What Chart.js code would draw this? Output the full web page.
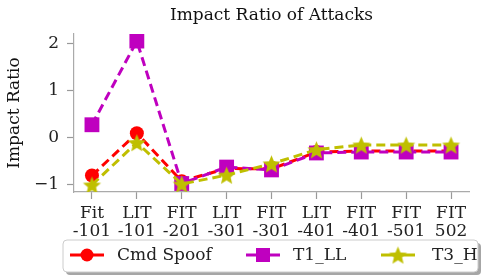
<!DOCTYPE html>
<html>
<head>
<meta charset="utf-8">
<script src="https://cdn.jsdelivr.net/npm/chart.js@4/dist/chart.umd.min.js"></script>
<style>
  html, body { margin: 0; padding: 0; background: #fff; }
  #wrap { width: 484px; height: 277px; }
</style>
</head>
<body>
<div id="wrap"><canvas id="myChart" width="484" height="277"></canvas></div>
<script>
// data
const categories = [['Fit', '-101'], ['LIT', '-101'], ['FIT', '-201'], ['LIT', '-301'], ['FIT', '-301'],
                    ['LIT', '-401'], ['FIT', '-401'], ['FIT', '-501'], ['FIT', '502']];
const cmdSpoof = [-0.80, 0.10, -0.92, -0.65, -0.66, -0.30, -0.28, -0.28, -0.28];
const t1LL     = [0.28, 2.06, -0.97, -0.62, -0.68, -0.32, -0.30, -0.30, -0.30];
const t3H      = [-1.00, -0.10, -0.98, -0.79, -0.55, -0.25, -0.15, -0.15, -0.15];
const yTicks = [-1, 0, 1, 2];

const FONT = "'DejaVu Serif', serif";
const FS = 17;
const RED = '#ff0000', MAG = '#bf00bf', YEL = '#bfbf00';

// filled 5 point star used as marker
function makeStar(color, r) {
  const c = document.createElement('canvas');
  const s = Math.ceil(r * 2 + 2);
  c.width = s; c.height = s;
  const ctx = c.getContext('2d');
  ctx.translate(s / 2, s / 2 + r * 0.1);
  ctx.beginPath();
  for (let i = 0; i < 10; i++) {
    const rad = i % 2 === 0 ? r : r * 0.45;
    const a = -Math.PI / 2 + i * Math.PI / 5;
    ctx.lineTo(rad * Math.cos(a), rad * Math.sin(a));
  }
  ctx.closePath();
  ctx.fillStyle = color;
  ctx.fill();
  return c;
}
const starImg = makeStar(YEL, 9.5);

const toXY = arr => arr.map((v, i) => ({x: i, y: v}));

const data = {
  datasets: [
    {
      label: 'Cmd Spoof', data: toXY(cmdSpoof), order: 2,
      borderColor: RED, backgroundColor: RED, borderWidth: 3, borderDash: [9, 5],
      pointStyle: 'circle', pointRadius: 7, pointBorderWidth: 0, pointHoverRadius: 7
    },
    {
      label: 'T1_LL', data: toXY(t1LL), order: 1,
      borderColor: MAG, backgroundColor: MAG, borderWidth: 3, borderDash: [9, 5],
      pointStyle: 'rect', pointRadius: 10.5, pointBorderWidth: 0, pointHoverRadius: 10.5
    },
    {
      label: 'T3_H', data: toXY(t3H), order: 0,
      borderColor: YEL, backgroundColor: YEL, borderWidth: 3, borderDash: [9, 5],
      pointStyle: starImg, pointRadius: 9, pointHoverRadius: 9
    }
  ]
};

// title centred over the plot area, as matplotlib does
const plotTitle = {
  id: 'plotTitle',
  afterDraw(chart) {
    const ctx = chart.ctx, a = chart.chartArea;
    ctx.save();
    ctx.fillStyle = '#111';
    ctx.font = FS + 'px ' + FONT;
    ctx.textAlign = 'center';
    ctx.textBaseline = 'middle';
    ctx.fillText('Impact Ratio of Attacks', (a.left + a.right) / 2, 16);
    ctx.restore();
  }
};

// legend drawn like the matplotlib one: line through marker, framed box with shadow
const boxLegend = {
  id: 'boxLegend',
  afterDraw(chart) {
    const ctx = chart.ctx;
    const x0 = 63, y0 = 240, w = 415, h = 32;
    ctx.save();
    ctx.fillStyle = 'rgba(0,0,0,0.35)';
    roundRect(ctx, x0 + 3, y0 + 3, w, h, 4); ctx.fill();
    ctx.fillStyle = '#fff';
    ctx.strokeStyle = '#cccccc';
    ctx.lineWidth = 1;
    roundRect(ctx, x0, y0, w, h, 4); ctx.fill(); ctx.stroke();
    const items = [{x: 70, tx: 117}, {x: 246, tx: 293}, {x: 381, tx: 432}];
    const cy = y0 + h / 2 - 1;
    chart.data.datasets.forEach((ds, i) => {
      const it = items[i];
      ctx.strokeStyle = ds.borderColor;
      ctx.lineWidth = ds.borderWidth;
      ctx.setLineDash([]);
      ctx.beginPath(); ctx.moveTo(it.x, cy); ctx.lineTo(it.x + 34, cy); ctx.stroke();
      ctx.fillStyle = ds.backgroundColor;
      if (ds.pointStyle === 'circle') {
        ctx.beginPath(); ctx.arc(it.x + 17, cy, 6.5, 0, Math.PI * 2); ctx.fill();
      } else if (ds.pointStyle === 'rect') {
        ctx.fillRect(it.x + 17 - 7, cy - 7, 14, 14);
      } else {
        ctx.drawImage(ds.pointStyle, it.x + 17 - ds.pointStyle.width / 2, cy - ds.pointStyle.height / 2);
      }
      ctx.fillStyle = '#222';
      ctx.font = FS + 'px ' + FONT;
      ctx.textBaseline = 'middle';
      ctx.fillText(ds.label, it.tx, cy + 1);
    });
    ctx.restore();
  }
};
function roundRect(ctx, x, y, w, h, r) {
  ctx.beginPath();
  ctx.moveTo(x + r, y); ctx.lineTo(x + w - r, y); ctx.quadraticCurveTo(x + w, y, x + w, y + r);
  ctx.lineTo(x + w, y + h - r); ctx.quadraticCurveTo(x + w, y + h, x + w - r, y + h);
  ctx.lineTo(x + r, y + h); ctx.quadraticCurveTo(x, y + h, x, y + h - r);
  ctx.lineTo(x, y + r); ctx.quadraticCurveTo(x, y, x + r, y);
  ctx.closePath();
}

const config = {
  type: 'line',
  data,
  options: {
    responsive: false,
    animation: false,
    devicePixelRatio: 1,
    layout: {padding: {left: 0, right: 15, top: 34, bottom: 0}},
    plugins: {
      legend: {display: false},
      tooltip: {enabled: false},
      title: {display: false}
    },
    scales: {
      x: {
        type: 'linear', min: -0.4, max: 8.4,
        afterBuildTicks: s => { s.ticks = categories.map((c, i) => ({value: i})); },
        afterFit: s => { s.height = 85; },
        ticks: {
          callback: v => categories[v], color: '#222', padding: 5, maxRotation: 0, autoSkip: false,
          font: {family: FONT, size: FS, lineHeight: 1.1}
        },
        grid: {drawOnChartArea: false, drawTicks: true, tickLength: 7, color: '#999', tickWidth: 1.2},
        border: {display: true, color: '#aaa', width: 1.2}
      },
      y: {
        min: -1.15, max: 2.21,
        afterBuildTicks: s => { s.ticks = yTicks.map(v => ({value: v})); },
        afterFit: s => { s.width = 74; },
        ticks: {
          callback: v => String(v).replace('-', '\u2212'), color: '#222', padding: 8,
          font: {family: FONT, size: FS}
        },
        title: {display: true, text: 'Impact Ratio', color: '#111', font: {family: FONT, size: FS},
                padding: {top: 4, bottom: 0}},
        grid: {drawOnChartArea: false, drawTicks: true, tickLength: 7, color: '#999', tickWidth: 1.2},
        border: {display: true, color: '#aaa', width: 1.2}
      }
    }
  },
  plugins: [plotTitle, boxLegend]
};

const myChart = new Chart(document.getElementById('myChart'), config);
</script>
</body>
</html>
